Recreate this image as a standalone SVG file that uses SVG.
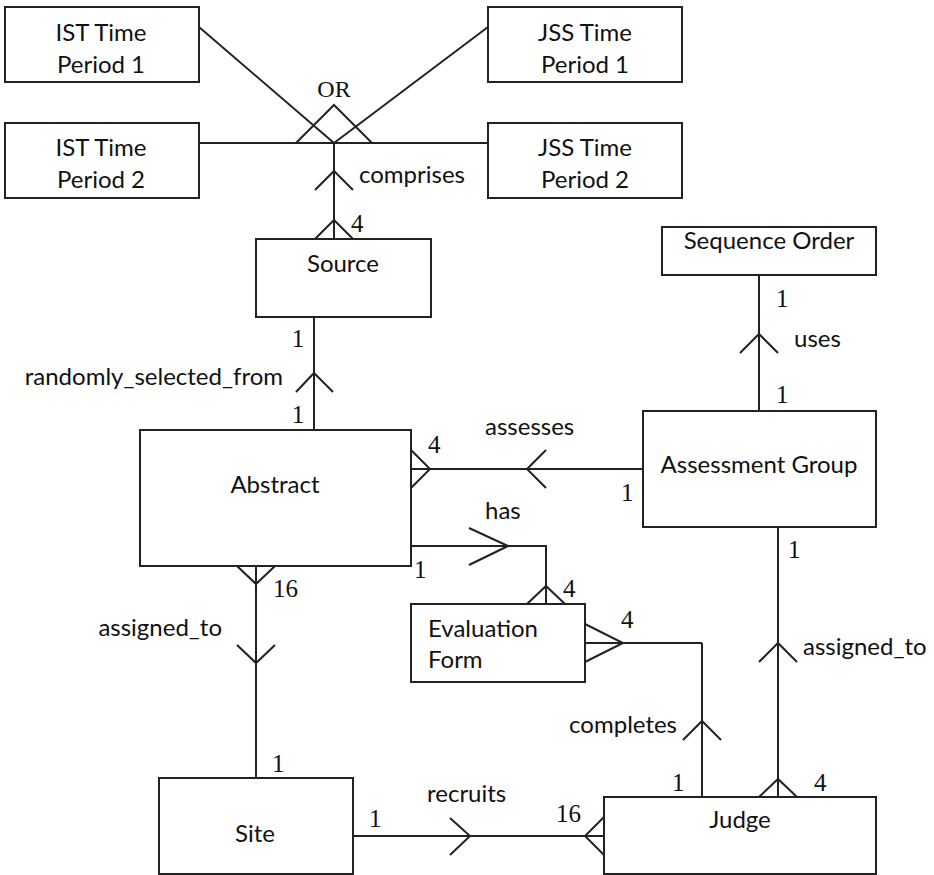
<svg xmlns="http://www.w3.org/2000/svg" width="934" height="875" viewBox="0 0 934 875">
<style>
rect{fill:#fff;stroke:#222;stroke-width:2}
line,polyline{fill:none;stroke:#222;stroke-width:2}
.t{font-family:Lato,"Liberation Sans",sans-serif;font-size:24px;fill:#111}
.c{text-anchor:middle}
.e{text-anchor:end}
.n{font-family:"Liberation Serif",serif;font-size:25px;fill:#111}
</style>
<rect x="0" y="0" width="934" height="875" style="stroke:none"/>
<g id="connectors">
<line x1="199" y1="27" x2="334" y2="143"/>
<line x1="488" y1="27" x2="334" y2="143"/>
<line x1="199" y1="143" x2="488" y2="143"/>
<polyline points="296,143 334,105 372,143"/>
<line x1="334" y1="143" x2="334" y2="239"/>
<polyline points="315,190 334,171 353,190"/>
<polyline points="315,239 334,220 353,239"/>
<line x1="314" y1="317" x2="314" y2="430"/>
<polyline points="296,392 314,373 333,392"/>
<line x1="411" y1="469" x2="643" y2="469"/>
<polyline points="411,450 430,469 411,488"/>
<polyline points="546,450 527,469 546,488"/>
<polyline points="411,546 546,546 546,604"/>
<polyline points="469,528 508,546 469,565"/>
<polyline points="527,604 546,586 565,604"/>
<line x1="759" y1="275" x2="759" y2="411"/>
<polyline points="740,353 759,334 778,353"/>
<polyline points="585,624 623,643 585,662"/>
<line x1="585" y1="643" x2="702" y2="643"/>
<line x1="702" y1="643" x2="702" y2="797"/>
<polyline points="683,740 702,721 721,740"/>
<line x1="778" y1="527" x2="778" y2="797"/>
<polyline points="759,662 778,643 797,662"/>
<polyline points="759,797 778,779 797,797"/>
<line x1="256" y1="566" x2="256" y2="778"/>
<polyline points="237,566 256,584 275,566"/>
<polyline points="237,645 256,663 275,645"/>
<line x1="353" y1="836" x2="604" y2="836"/>
<polyline points="450,818 470,836 450,855"/>
<polyline points="604,817 585,836 604,855"/>
</g>
<g id="ist1"><rect x="5" y="7" width="194" height="75"/><text class="t c" x="101" y="41">IST Time</text><text class="t c" x="101" y="73">Period 1</text></g>
<g id="ist2"><rect x="5" y="123" width="194" height="75"/><text class="t c" x="101" y="156">IST Time</text><text class="t c" x="101" y="188">Period 2</text></g>
<g id="jss1"><rect x="488" y="7" width="194" height="75"/><text class="t c" x="585" y="41">JSS Time</text><text class="t c" x="585" y="73">Period 1</text></g>
<g id="jss2"><rect x="488" y="123" width="194" height="75"/><text class="t c" x="585" y="156">JSS Time</text><text class="t c" x="585" y="188">Period 2</text></g>
<g id="source"><rect x="256" y="239" width="175" height="78"/><text class="t c" x="343" y="272">Source</text></g>
<g id="sequence"><rect x="662" y="227" width="214" height="48"/><text class="t c" x="769" y="249">Sequence Order</text></g>
<g id="abstract"><rect x="140" y="430" width="271" height="136"/><text class="t c" x="275" y="493">Abstract</text></g>
<g id="assessment"><rect x="643" y="411" width="233" height="116"/><text class="t c" x="759" y="473">Assessment Group</text></g>
<g id="evalform"><rect x="411" y="604" width="174" height="78"/><text class="t" x="428" y="637">Evaluation</text><text class="t" x="428" y="668">Form</text></g>
<g id="site"><rect x="159" y="778" width="194" height="96"/><text class="t c" x="255" y="842">Site</text></g>
<g id="judge"><rect x="604" y="797" width="272" height="77"/><text class="t c" x="740" y="828">Judge</text></g>
<g id="labels">
<text class="n c" x="334" y="97" style="font-size:24px">OR</text>
<text class="t" x="359" y="183">comprises</text>
<text class="n" x="351" y="232">4</text>
<text class="n c" x="298" y="347">1</text>
<text class="n c" x="298" y="423">1</text>
<text class="t e" x="283" y="385">randomly_selected_from</text>
<text class="n" x="428" y="453">4</text>
<text class="t" x="485" y="435">assesses</text>
<text class="n" x="621" y="501">1</text>
<text class="t" x="485" y="519">has</text>
<text class="n" x="414" y="578">1</text>
<text class="n" x="563" y="597">4</text>
<text class="n" x="621" y="628">4</text>
<text class="n" x="776" y="307">1</text>
<text class="n" x="776" y="403">1</text>
<text class="t" x="794" y="347">uses</text>
<text class="n" x="788" y="558">1</text>
<text class="t" x="803" y="655">assigned_to</text>
<text class="t e" x="677" y="733">completes</text>
<text class="n" x="672" y="791">1</text>
<text class="n" x="814" y="791">4</text>
<text class="n" x="556" y="822">16</text>
<text class="t" x="427" y="802">recruits</text>
<text class="n" x="369" y="827">1</text>
<text class="n" x="272" y="772">1</text>
<text class="n" x="273" y="597">16</text>
<text class="t e" x="222" y="636">assigned_to</text>
</g>
</svg>
